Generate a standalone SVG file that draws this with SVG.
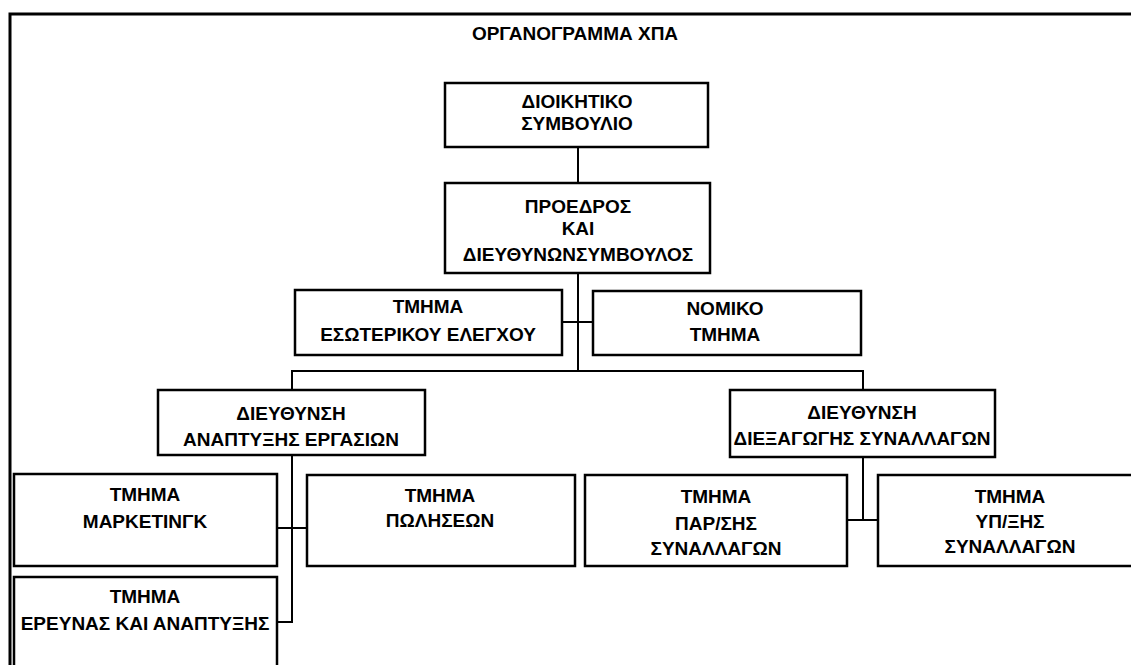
<svg xmlns="http://www.w3.org/2000/svg" width="1131" height="665" viewBox="0 0 1131 665">
<style>
.box{fill:#fff;stroke:#000;stroke-width:2.5}
.ln{fill:none;stroke:#000;stroke-width:2}
.frame{fill:none;stroke:#000;stroke-width:3}
text{font-family:"Liberation Sans",Arial,sans-serif;font-weight:bold;font-size:19px;text-anchor:middle;fill:#000}
</style>
<rect width="1131" height="665" fill="#fff"/>
<path class="frame" d="M10 665V14H1135"/>
<text id="title" x="575" y="40">ΟΡΓΑΝΟΓΡΑΜΜΑ ΧΠΑ</text>
<g id="connectors">
<path class="ln" d="M578 147V183"/>
<path class="ln" d="M578 273V371"/>
<path class="ln" d="M562 322H593"/>
<path class="ln" d="M292 390V371H863V390"/>
<path class="ln" d="M292 455V622H277"/>
<path class="ln" d="M277 528H307"/>
<path class="ln" d="M863 457V520"/>
<path class="ln" d="M847 520H878"/>
</g>
<g id="board"><rect class="box" x="445" y="83" width="263" height="64"/><text x="577" y="108">ΔΙΟΙΚΗΤΙΚΟ</text><text x="577" y="130">ΣΥΜΒΟΥΛΙΟ</text></g>
<g id="ceo"><rect class="box" x="445" y="183" width="265" height="90"/><text x="578" y="213">ΠΡΟΕΔΡΟΣ</text><text x="578" y="235">ΚΑΙ</text><text x="578" y="261">ΔΙΕΥΘΥΝΩΝΣΥΜΒΟΥΛΟΣ</text></g>
<g id="audit"><rect class="box" x="295" y="290" width="267" height="65"/><text x="428" y="313">ΤΜΗΜΑ</text><text x="428" y="341">ΕΣΩΤΕΡΙΚΟΥ ΕΛΕΓΧΟΥ</text></g>
<g id="legal"><rect class="box" x="593" y="291" width="268" height="64"/><text x="725" y="315">ΝΟΜΙΚΟ</text><text x="725" y="341">ΤΜΗΜΑ</text></g>
<g id="devdir"><rect class="box" x="158" y="390" width="267" height="65"/><text x="291" y="420">ΔΙΕΥΘΥΝΣΗ</text><text x="291" y="446">ΑΝΑΠΤΥΞΗΣ ΕΡΓΑΣΙΩΝ</text></g>
<g id="opsdir"><rect class="box" x="730" y="390" width="265" height="67"/><text x="862" y="419">ΔΙΕΥΘΥΝΣΗ</text><text x="862" y="445">ΔΙΕΞΑΓΩΓΗΣ ΣΥΝΑΛΛΑΓΩΝ</text></g>
<g id="marketing"><rect class="box" x="14" y="474" width="263" height="92"/><text x="145" y="501">ΤΜΗΜΑ</text><text x="145" y="528">ΜΑΡΚΕΤΙΝΓΚ</text></g>
<g id="sales"><rect class="box" x="307" y="475" width="268" height="91"/><text x="440" y="502">ΤΜΗΜΑ</text><text x="440" y="527">ΠΩΛΗΣΕΩΝ</text></g>
<g id="research"><rect class="box" x="14" y="577" width="263" height="100"/><text x="145" y="603">ΤΜΗΜΑ</text><text x="145" y="630">ΕΡΕΥΝΑΣ ΚΑΙ ΑΝΑΠΤΥΞΗΣ</text></g>
<g id="settlement"><rect class="box" x="585" y="475" width="262" height="91"/><text x="716" y="503">ΤΜΗΜΑ</text><text x="716" y="530">ΠΑΡ/ΣΗΣ</text><text x="716" y="555">ΣΥΝΑΛΛΑΓΩΝ</text></g>
<g id="support"><rect class="box" x="878" y="475" width="264" height="91"/><text x="1010" y="503">ΤΜΗΜΑ</text><text x="1010" y="528">ΥΠ/ΞΗΣ</text><text x="1010" y="553">ΣΥΝΑΛΛΑΓΩΝ</text></g>
</svg>
